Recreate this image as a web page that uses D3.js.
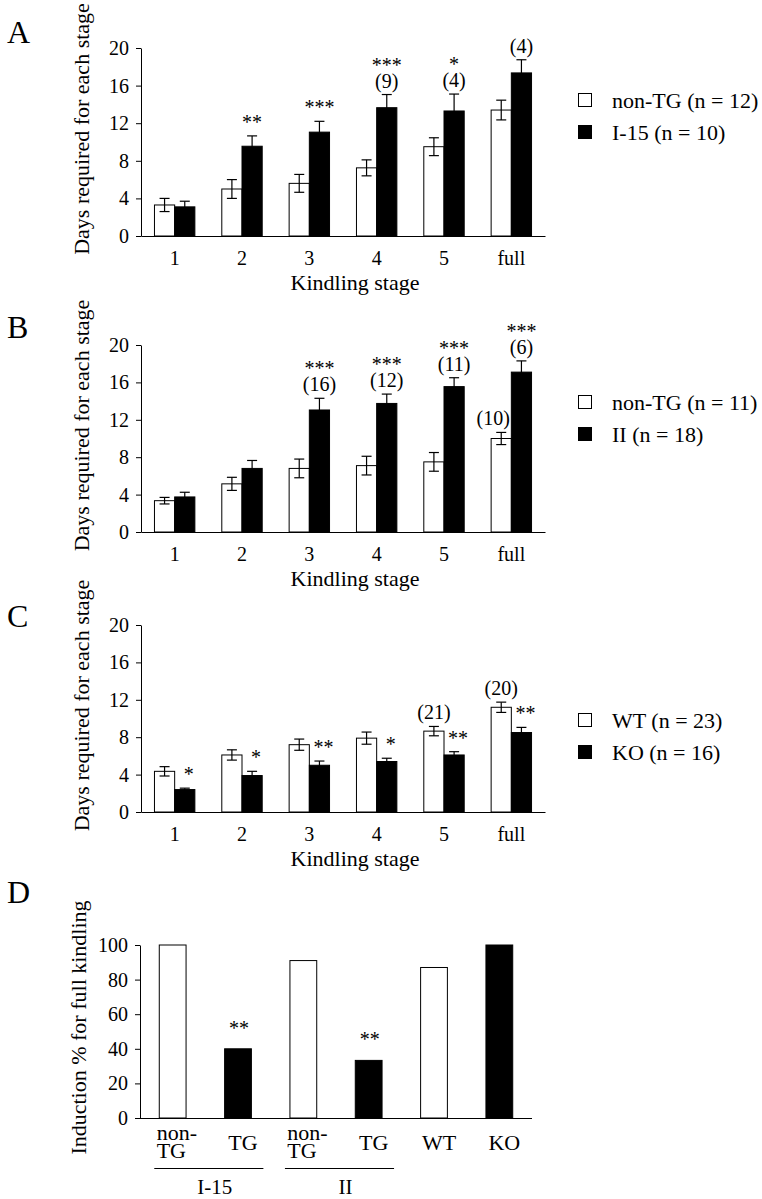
<!DOCTYPE html>
<html><head><meta charset="utf-8">
<script src="https://cdn.jsdelivr.net/npm/d3@7"></script>
<style>
body{margin:0;background:#fff}
svg{display:block}
text{font-family:"Liberation Serif","Times New Roman",serif;fill:#000}
</style>
</head><body>
<svg id="chart" width="762" height="1199"></svg>
<script>
// ---------- DATA ----------
const stages = ["1","2","3","4","5","full"];
const dayTicks = [0,4,8,12,16,20];

// Panel A
const aNonTG    = [3.3, 5.0, 5.6, 7.25, 9.5, 13.4];
const aNonTGErr = [0.7, 1.0, 0.95, 0.85, 0.95, 1.05];
const aI15      = [3.1, 9.55, 11.05, 13.65, 13.3, 17.35];
const aI15Err   = [0.6, 1.1, 1.15, 1.4, 1.8, 1.4];
const aStars    = ["", "**", "***", "***", "*", ""];
const aCounts   = ["", "", "", "(9)", "(4)", "(4)"];
const aWhiteCounts = ["", "", "", "", "", ""];
const aLegend   = ["non-TG (n = 12)", "I-15 (n = 10)"];

// Panel B
const bNonTG    = [3.35, 5.15, 6.8, 7.1, 7.5, 10.0];
const bNonTGErr = [0.35, 0.7, 1.0, 1.0, 1.0, 0.65];
const bII       = [3.75, 6.8, 13.05, 13.75, 15.55, 17.1];
const bIIErr    = [0.5, 0.85, 1.25, 1.0, 0.95, 1.2];
const bStars    = ["", "", "***", "***", "***", "***"];
const bCounts   = ["", "", "(16)", "(12)", "(11)", "(6)"];
const bWhiteCounts = ["", "", "", "", "", "(10)"];
const bLegend   = ["non-TG (n = 11)", "II (n = 18)"];

// Panel C
const cWT       = [4.35, 6.1, 7.2, 7.9, 8.65, 11.2];
const cWTErr    = [0.5, 0.55, 0.6, 0.65, 0.5, 0.55];
const cKO       = [2.4, 3.9, 5.0, 5.4, 6.1, 8.5];
const cKOErr    = [0.15, 0.45, 0.45, 0.35, 0.35, 0.55];
const cStars    = ["*", "*", "**", "*", "**", "**"];
const cCounts   = ["", "", "", "", "", ""];
const cWhiteCounts = ["", "", "", "", "(21)", "(20)"];
const cLegend   = ["WT (n = 23)", "KO (n = 16)"];

// Panel D
const dKeys     = ["ntg1", "tg1", "ntg2", "tg2", "wt", "ko"];
const dLabels   = [["non-","TG"], ["TG"], ["non-","TG"], ["TG"], ["WT"], ["KO"]];
const dValues   = [100, 40, 91, 33.3, 87, 100];
const dFilled   = [false, true, false, true, false, true];
const dStars    = ["", "**", "", "**", "", ""];
const dGroups   = [{label:"I-15", first:"ntg1", last:"tg1"}, {label:"II", first:"ntg2", last:"tg2"}];
const pctTicks  = [0,20,40,60,80,100];

const yTitleDays = "Days required for each stage";
const xTitleDays = "Kindling stage";
const yTitlePct  = "Induction % for full kindling";

// ---------- LAYOUT ----------
const svg = d3.select("#chart");
svg.append("rect").attr("width",762).attr("height",1199).attr("fill","#fff");

const X0 = 141, X1 = 545;

function styleAxis(sel, size){
  sel.attr("font-family",'"Liberation Serif","Times New Roman",serif').attr("font-size", size);
  sel.selectAll("path.domain").attr("stroke","#000").attr("stroke-width",1);
  sel.selectAll(".tick line").attr("stroke","#000").attr("stroke-width",1);
  sel.selectAll(".tick text").attr("fill","#000");
}

function drawStagePanel(p){
  const g = svg.append("g");
  const x = d3.scaleBand().domain(stages).range([X0, X1]).paddingInner(0.4).paddingOuter(0.2);
  const sub = d3.scaleBand().domain(["w","b"]).range([0, x.bandwidth()]);
  const y = d3.scaleLinear().domain([0,20]).range([p.bottom, p.top]);

  const series = [
    {key:"w", vals:p.white, errs:p.whiteErr, fill:"#fff"},
    {key:"b", vals:p.black, errs:p.blackErr, fill:"#000"}
  ];
  series.forEach(s=>{
    g.append("g").selectAll("rect").data(stages).join("rect")
      .attr("x", d=>x(d)+sub(s.key))
      .attr("y", (d,i)=>y(s.vals[i]))
      .attr("width", sub.bandwidth())
      .attr("height", (d,i)=>y(0)-y(s.vals[i]))
      .attr("fill", s.fill).attr("stroke","#000").attr("stroke-width",1);
  });
  series.forEach(s=>{
    const eg = g.append("g").attr("stroke","#000").attr("stroke-width",1.2).attr("fill","none");
    stages.forEach((d,i)=>{
      const cx = x(d)+sub(s.key)+sub.bandwidth()/2;
      const lo = y(s.vals[i]-s.errs[i]), hi = y(s.vals[i]+s.errs[i]);
      eg.append("line").attr("x1",cx).attr("x2",cx).attr("y1",lo).attr("y2",hi);
      eg.append("line").attr("x1",cx-5).attr("x2",cx+5).attr("y1",hi).attr("y2",hi);
      eg.append("line").attr("x1",cx-5).attr("x2",cx+5).attr("y1",lo).attr("y2",lo);
    });
  });

  // annotations
  stages.forEach((d,i)=>{
    const cxB = x(d)+sub("b")+sub.bandwidth()/2;
    const cxW = x(d)+sub("w")+sub.bandwidth()/2;
    const topB = y(p.black[i]+p.blackErr[i]);
    const topW = y(p.white[i]+p.whiteErr[i]);
    let sy = topB - 7;
    if(p.counts[i]){
      g.append("text").attr("x",cxB).attr("y",topB-7).attr("text-anchor","middle").attr("font-size",20).text(p.counts[i]);
      sy = topB - 7 - 16;
    }
    if(p.stars[i]){
      g.append("text").attr("x",cxB+p.starDx).attr("y",sy).attr("text-anchor","middle").attr("font-size",20).text(p.stars[i]);
    }
    if(p.whiteCounts[i]){
      g.append("text").attr("x",cxW+p.whiteCountDx).attr("y",topW-7).attr("text-anchor","middle").attr("font-size",20).text(p.whiteCounts[i]);
    }
  });

  g.append("g").attr("transform",`translate(${X0},0)`)
    .call(d3.axisLeft(y).tickValues(dayTicks).tickSize(5).tickSizeOuter(0).tickPadding(7))
    .call(s=>styleAxis(s,20));
  g.append("g").attr("transform",`translate(0,${p.bottom})`)
    .call(d3.axisBottom(x).tickSize(0).tickSizeOuter(0).tickPadding(15))
    .call(s=>styleAxis(s,20));

  g.append("text").attr("x",355).attr("y",p.bottom+54).attr("text-anchor","middle").attr("font-size",22).text(xTitleDays);
  g.append("text").attr("transform",`translate(89,${(p.top+p.bottom)/2-13}) rotate(-90)`)
    .attr("text-anchor","middle").attr("font-size",22).text(yTitleDays);
  g.append("text").attr("x",7).attr("y",p.letterY).attr("font-size",32).text(p.letter);

  // legend
  p.legend.forEach((t,i)=>{
    const by = p.legendY[i];
    g.append("rect").attr("x",578.5).attr("y",by-14.5).attr("width",13).attr("height",13)
      .attr("fill", i===0?"#fff":"#000").attr("stroke","#000").attr("stroke-width",1);
    g.append("text").attr("x",612).attr("y",by).attr("font-size",22).text(t);
  });
}

drawStagePanel({letter:"A", top:48, bottom:236, letterY:43, legendY:[108,140],
  white:aNonTG, whiteErr:aNonTGErr, black:aI15, blackErr:aI15Err,
  stars:aStars, counts:aCounts, whiteCounts:aWhiteCounts, legend:aLegend, starDx:0, whiteCountDx:0});
drawStagePanel({letter:"B", top:345, bottom:532, letterY:338, legendY:[410,442],
  white:bNonTG, whiteErr:bNonTGErr, black:bII, blackErr:bIIErr,
  stars:bStars, counts:bCounts, whiteCounts:bWhiteCounts, legend:bLegend, starDx:0, whiteCountDx:-8});
drawStagePanel({letter:"C", top:625, bottom:812, letterY:627, legendY:[728,760],
  white:cWT, whiteErr:cWTErr, black:cKO, blackErr:cKOErr,
  stars:cStars, counts:cCounts, whiteCounts:cWhiteCounts, legend:cLegend, starDx:4, whiteCountDx:0});

// ---------- PANEL D ----------
(function(){
  const top = 945, bottom = 1118, xa = 140, xb = 532;
  const g = svg.append("g");
  const x = d3.scaleBand().domain(dKeys).range([xa, xb]).paddingInner(0.59).paddingOuter(0.295);
  const y = d3.scaleLinear().domain([0,100]).range([bottom, top]);

  g.append("g").selectAll("rect").data(dKeys).join("rect")
    .attr("x", d=>x(d)).attr("y",(d,i)=>y(dValues[i]))
    .attr("width", x.bandwidth()).attr("height",(d,i)=>y(0)-y(dValues[i]))
    .attr("fill",(d,i)=>dFilled[i]?"#000":"#fff").attr("stroke","#000").attr("stroke-width",1);

  dKeys.forEach((d,i)=>{
    if(dStars[i]) g.append("text").attr("x",x(d)+x.bandwidth()/2+1).attr("y",y(dValues[i])-14)
      .attr("text-anchor","middle").attr("font-size",20).text(dStars[i]);
  });

  g.append("g").attr("transform",`translate(${xa},0)`)
    .call(d3.axisLeft(y).tickValues(pctTicks).tickSize(5).tickSizeOuter(0).tickPadding(7))
    .call(s=>styleAxis(s,20));
  g.append("line").attr("x1",xa).attr("x2",xb).attr("y1",bottom+0.5).attr("y2",bottom+0.5).attr("stroke","#000");

  // category labels
  dKeys.forEach((d,i)=>{
    const cx = x(d)+x.bandwidth()/2;
    const lines = dLabels[i];
    if(lines.length===1){
      g.append("text").attr("x",cx+5).attr("y",bottom+32).attr("text-anchor","middle").attr("font-size",22).text(lines[0]);
    } else {
      const t = g.append("text").attr("font-size",22);
      lines.forEach((ln,j)=>t.append("tspan").attr("x",cx-16).attr("y",bottom+22+j*18).text(ln));
    }
  });
  // group underline + labels
  dGroups.forEach(gr=>{
    const l = x(gr.first)-5, r = x(gr.last)+x.bandwidth()+12;
    g.append("line").attr("x1",l).attr("x2",r).attr("y1",1168.5).attr("y2",1168.5).attr("stroke","#000").attr("stroke-width",1);
    g.append("text").attr("x",(l+r)/2+6).attr("y",1194).attr("text-anchor","middle").attr("font-size",21).text(gr.label);
  });

  g.append("text").attr("transform",`translate(86,${(top+bottom)/2-4}) rotate(-90)`)
    .attr("text-anchor","middle").attr("font-size",22).text(yTitlePct);
  g.append("text").attr("x",7).attr("y",903).attr("font-size",32).text("D");
})();
</script>
</body></html>
